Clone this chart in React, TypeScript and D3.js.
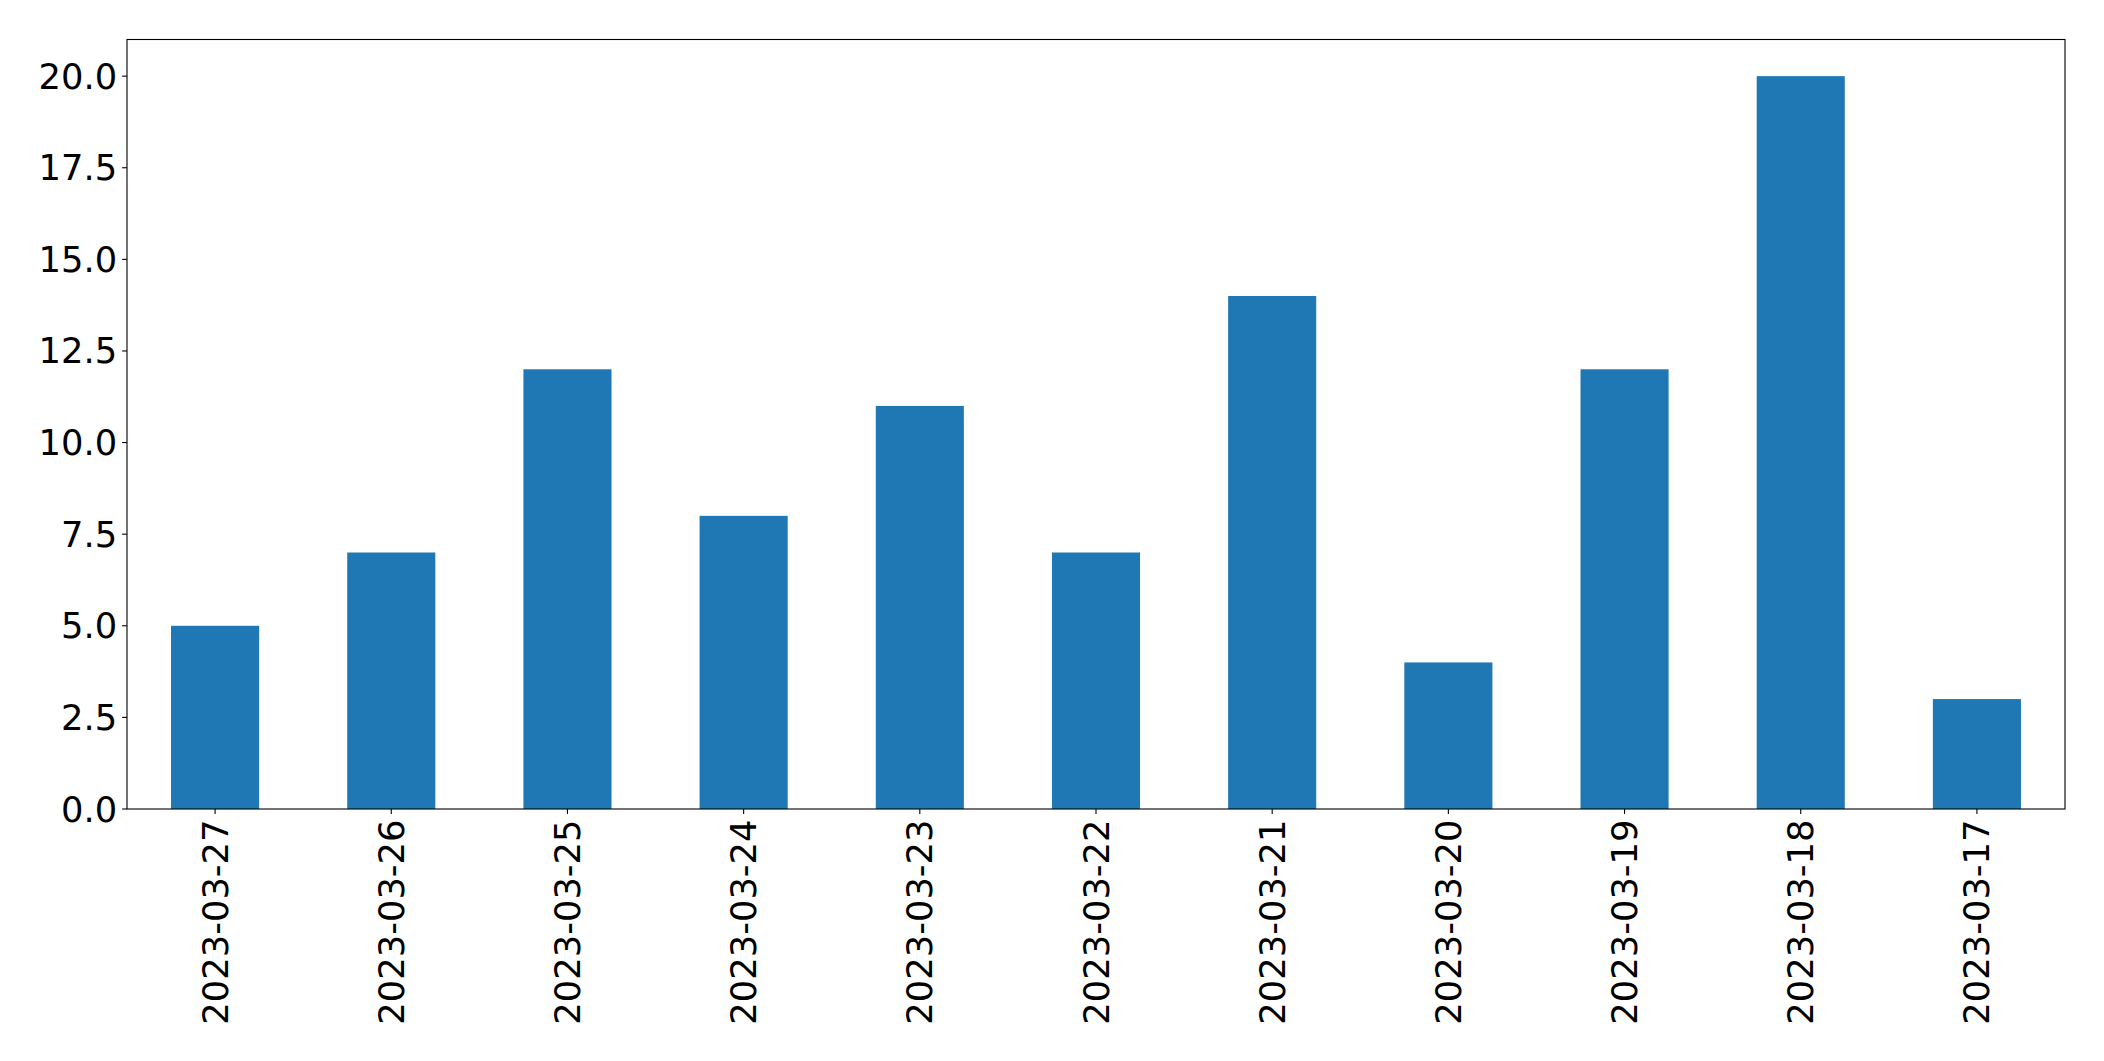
import React from "react";
import * as d3 from "d3";

const categories = ["2023-03-27","2023-03-26","2023-03-25","2023-03-24","2023-03-23","2023-03-22","2023-03-21","2023-03-20","2023-03-19","2023-03-18","2023-03-17"];
const values = [5, 7, 12, 8, 11, 7, 14, 4, 12, 20, 3];
const yTicks = [0, 2.5, 5, 7.5, 10, 12.5, 15, 17.5, 20];

const W = 2104, H = 1061;
const M = { left: 127, right: 2065, top: 39.5, bottom: 809 };
const FS = 35.3;
const FONT = "DejaVu Sans";

export default function App() {
  const x = d3.scaleLinear().domain([-0.5, categories.length - 0.5]).range([M.left, M.right]);
  const y = d3.scaleLinear().domain([0, 21]).range([M.bottom, M.top]);
  const bw = x(0.25) - x(-0.25);
  return (
    <svg width={W} height={H} style={{ position: "absolute", left: 0, top: 0, background: "#fff" }}>
      {values.map((v, i) => (
        <rect key={i} x={x(i) - bw / 2} y={y(v)} width={bw} height={y(0) - y(v)} fill="#1f77b4" />
      ))}
      <rect x={M.left} y={M.top} width={M.right - M.left} height={M.bottom - M.top} fill="none" stroke="#000" strokeWidth={1.1} />
      {yTicks.map((t) => (
        <g key={t}>
          <line x1={M.left - 4.9} x2={M.left} y1={y(t)} y2={y(t)} stroke="#000" strokeWidth={1.1} />
          <text x={M.left - 9.8} y={y(t)} textAnchor="end" dominantBaseline="central" fontFamily={FONT} fontSize={FS} fill="#000">
            {t.toFixed(1)}
          </text>
        </g>
      ))}
      {categories.map((c, i) => (
        <g key={c}>
          <line x1={x(i)} x2={x(i)} y1={M.bottom} y2={M.bottom + 4.9} stroke="#000" strokeWidth={1.1} />
          <text transform={`translate(${x(i)},${M.bottom + 10.5}) rotate(-90)`} textAnchor="end" dominantBaseline="central" fontFamily={FONT} fontSize={FS} fill="#000">
            {c}
          </text>
        </g>
      ))}
    </svg>
  );
}
